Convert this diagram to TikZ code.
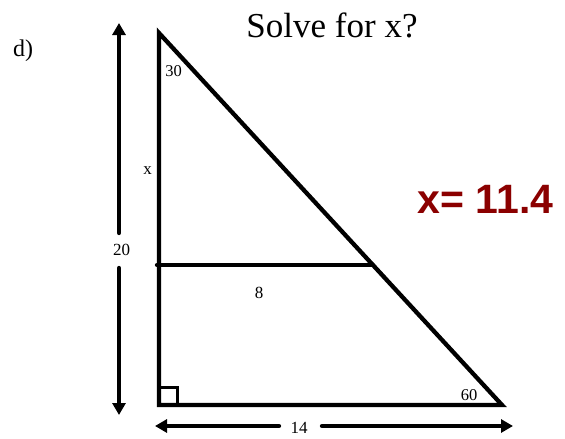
\documentclass[tikz,border=0pt]{standalone}
\usepackage{fontspec}
\setmainfont{Liberation Serif}
\newfontfamily\answerfont{Liberation Sans}
\usetikzlibrary{arrows.meta}
\definecolor{answerred}{HTML}{8B0000}
\tikzset{
  edge/.style={line width=4.3pt,miter limit=10},
  measure/.style={line width=4.3pt,line cap=round,-{Triangle[length=12pt,width=13pt]}},
  anglelabel/.style={font=\fontsize{16.5}{18}\selectfont,inner sep=0pt},
  sidelabel/.style={font=\fontsize{17}{19}\selectfont,inner sep=0pt},
  partlabel/.style={font=\fontsize{24}{28}\selectfont,inner sep=0pt},
  titletext/.style={font=\fontsize{35}{40}\selectfont,inner sep=0pt},
  answer/.style={font=\answerfont\bfseries\fontsize{41}{46}\selectfont,text=answerred,inner sep=0pt}
}
\begin{document}
\begin{tikzpicture}[x=1pt,y=-1pt]
  \useasboundingbox (0,0) rectangle (565,439);
  \coordinate (apex) at (159,33);
  \coordinate (corner) at (159,405);
  \coordinate (base) at (502,405);
  \coordinate (midleft) at (157,265);
  \coordinate (midright) at (373,265);
  \draw[edge] (apex) -- (corner) -- (base) -- cycle;
  \draw[edge,line cap=round] (midleft) -- (midright);
  \draw[line width=3pt] (corner) rectangle ++(18,-18);
  % dimension arrows
  \coordinate (htop) at (119,23);
  \coordinate (hupper) at (119,233);
  \coordinate (hlower) at (119,268);
  \coordinate (hbottom) at (119,415);
  \coordinate (wleft) at (155,426);
  \coordinate (wgapleft) at (279,426);
  \coordinate (wgapright) at (322,426);
  \coordinate (wright) at (513,426);
  \draw[measure] (hupper) -- (htop);
  \draw[measure] (hlower) -- (hbottom);
  \draw[measure] (wgapleft) -- (wleft);
  \draw[measure] (wgapright) -- (wright);
  % labels
  \node[titletext] (title) at (332,25) {Solve for x?};
  \node[partlabel] (part) at (23,51) {d)};
  \node[anglelabel] (topangle) at (173.5,71) {30};
  \node[anglelabel] (baseangle) at (469,395) {60};
  \node[sidelabel] (xlabel) at (147.5,171) {x};
  \node[sidelabel] (height) at (121.5,250) {20};
  \node[sidelabel] (midlen) at (259,293) {8};
  \node[sidelabel] (width) at (299,428) {14};
  \node[answer] (result) at (485.5,199) {x= 11.4};
\end{tikzpicture}
\end{document}
